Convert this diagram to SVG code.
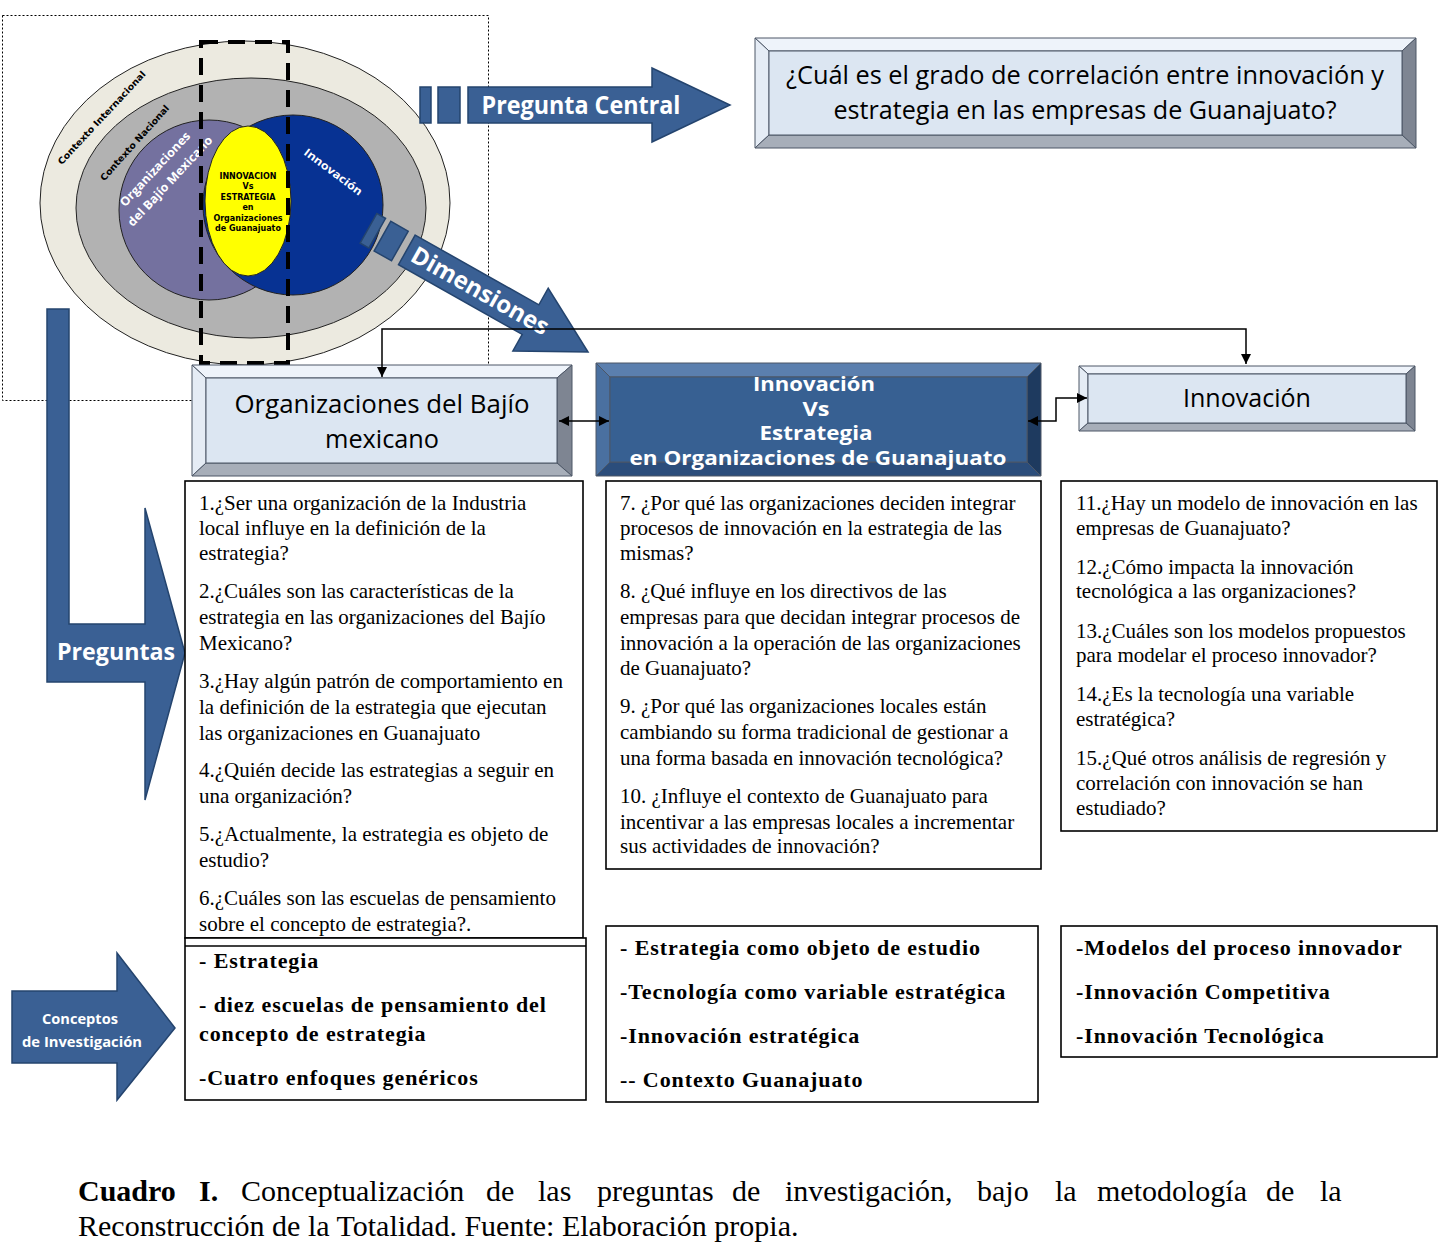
<svg xmlns="http://www.w3.org/2000/svg" width="1450" height="1255" viewBox="0 0 1450 1255">
<defs>
<marker id="ah" viewBox="0 0 10 10" refX="10" refY="5" markerWidth="10" markerHeight="10" markerUnits="userSpaceOnUse" orient="auto-start-reverse"><path d="M0,0 L10,5 L0,10 z" fill="#000"/></marker>
<style>
.ar{fill:#3A6094;stroke:#24446E;stroke-width:1.5}
.wl{fill:#fff;font-family:"Open Sans","Liberation Sans",sans-serif;font-weight:bold}
.lt{fill:#DCE6F2}.lt1{fill:#EEF3FA}.lt2{fill:#E5ECF5}.lt3{fill:#7E8592}.lt4{fill:#A7AEB9}
.dk{fill:#376092}.dk1{fill:#5B7FAE}.dk2{fill:#4A70A0}.dk3{fill:#1E3A5F}.dk4{fill:#2B4D7B}
.bv polygon,.bv rect{stroke:#4C5666;stroke-width:1}
.bx{fill:#fff;stroke:#000;stroke-width:1.6}
.q{font-family:"Liberation Serif","Times New Roman",serif;font-size:21px;fill:#000}
.c{font-family:"Liberation Serif","Times New Roman",serif;font-size:22px;font-weight:bold;fill:#000;letter-spacing:0.9px}
.nt{font-family:"Open Sans","Liberation Sans",sans-serif;fill:#000;text-anchor:middle}
.cap{font-family:"Liberation Serif","Times New Roman",serif;font-size:30px;fill:#000}
.conn{fill:none;stroke:#000;stroke-width:1.5}
</style>
</defs>
<rect width="1450" height="1255" fill="#fff"/>

<!-- dotted frame -->
<rect x="2.5" y="15.5" width="486" height="385" fill="none" stroke="#000" stroke-width="1" stroke-dasharray="2,2"/>

<!-- context ellipses -->
<g id="contexto">
<ellipse cx="245" cy="203" rx="205" ry="162" fill="#ECEAE0" stroke="#222" stroke-width="1"/>
<ellipse cx="251" cy="208" rx="175" ry="130" fill="#B2B2B2" stroke="#222" stroke-width="1"/>
<circle cx="209" cy="210" r="90" fill="#74719F" stroke="#222" stroke-width="1"/>
<text class="wl" font-size="12" text-anchor="middle" transform="translate(158,172) rotate(-47)" textLength="97" lengthAdjust="spacingAndGlyphs">Organizaciones</text>
<text class="wl" font-size="12" text-anchor="middle" transform="translate(173,184) rotate(-47)" textLength="118" lengthAdjust="spacingAndGlyphs">del Bajío Mexicano</text>
<circle cx="293" cy="205" r="90" fill="#073293" stroke="#222" stroke-width="1"/>
<ellipse cx="248" cy="201" rx="43" ry="75" fill="#FFFF00" stroke="#222" stroke-width="1"/>
<text font-family="'DejaVu Sans','Liberation Sans',sans-serif" font-weight="bold" font-size="8" text-anchor="middle" fill="#000">
<tspan x="248" y="179">INNOVACION</tspan><tspan x="248" y="189">Vs</tspan><tspan x="248" y="200">ESTRATEGIA</tspan><tspan x="248" y="210">en</tspan><tspan x="248" y="221">Organizaciones</tspan><tspan x="248" y="231">de Guanajuato</tspan>
</text>
<text font-family="'DejaVu Sans','Liberation Sans',sans-serif" font-weight="bold" font-size="9" text-anchor="middle" fill="#000" transform="translate(104,120) rotate(-47)" textLength="124" lengthAdjust="spacingAndGlyphs">Contexto Internacional</text>
<text font-family="'DejaVu Sans','Liberation Sans',sans-serif" font-weight="bold" font-size="9" text-anchor="middle" fill="#000" transform="translate(137,145) rotate(-48)" textLength="98" lengthAdjust="spacingAndGlyphs">Contexto Nacional</text>
<text class="wl" font-size="11" text-anchor="middle" transform="translate(331,175) rotate(37)" textLength="70" lengthAdjust="spacingAndGlyphs">Innovación</text>
<rect x="201" y="42" width="87" height="321" fill="none" stroke="#000" stroke-width="4" stroke-dasharray="17,10"/>
</g>

<!-- Pregunta Central arrow -->
<g id="pregunta-central-arrow">
<rect class="ar" x="420" y="87" width="11" height="36"/>
<rect class="ar" x="438" y="87" width="22" height="36"/>
<polygon class="ar" points="468,87 652,87 652,68 730,105 652,142 652,123 468,123"/>
<text class="wl" font-size="25" x="581" y="114" text-anchor="middle" textLength="199" lengthAdjust="spacingAndGlyphs">Pregunta Central</text>
</g>

<!-- Pregunta Central box -->
<g id="pregunta-central" class="bv">
<polygon class="lt1" points="755,38 1416,38 1402,51 769,51"/>
<polygon class="lt2" points="755,38 769,51 769,135 755,148"/>
<polygon class="lt3" points="1416,38 1416,148 1402,135 1402,51"/>
<polygon class="lt4" points="755,148 769,135 1402,135 1416,148"/>
<rect class="lt" x="769" y="51" width="633" height="84"/>
<text class="nt" font-size="25" x="1085" y="84" textLength="598" lengthAdjust="spacingAndGlyphs">¿Cuál es el grado de correlación entre innovación y</text>
<text class="nt" font-size="25" x="1085" y="119" textLength="503" lengthAdjust="spacingAndGlyphs">estrategia en las empresas de Guanajuato?</text>
</g>

<!-- Dimensiones arrow -->
<g id="dimensiones-arrow" transform="translate(368.5,228.3) rotate(29.4)">
<rect class="ar" x="0" y="-17" width="10" height="34"/>
<rect class="ar" x="16" y="-17" width="20" height="34"/>
<polygon class="ar" points="44,-17 186,-17 186,-36 252,0 186,36 186,17 44,17"/>
<text class="wl" font-size="24" x="128" y="8" text-anchor="middle" textLength="154" lengthAdjust="spacingAndGlyphs">Dimensiones</text>
</g>

<!-- Preguntas arrow -->
<g id="preguntas-arrow">
<polygon class="ar" points="47,309 69,309 69,624 145,624 145,508 185,653 145,800 145,682 47,682"/>
<text class="wl" font-size="24" x="116" y="660" text-anchor="middle" textLength="118" lengthAdjust="spacingAndGlyphs">Preguntas</text>
</g>

<!-- Conceptos arrow -->
<g id="conceptos-arrow">
<polygon class="ar" points="12,991 117,991 117,953 175,1028 117,1100 117,1063 12,1063"/>
<text class="wl" font-size="15" font-weight="normal" x="80" y="1024" text-anchor="middle" textLength="76" lengthAdjust="spacingAndGlyphs">Conceptos</text>
<text class="wl" font-size="15" font-weight="normal" x="82" y="1047" text-anchor="middle" textLength="120" lengthAdjust="spacingAndGlyphs">de Investigación</text>
</g>

<!-- Node: Organizaciones del Bajío mexicano -->
<g id="node-organizaciones" class="bv">
<polygon class="lt1" points="192,365 572,365 557,378 206,378"/>
<polygon class="lt2" points="192,365 206,378 206,463 192,476"/>
<polygon class="lt3" points="572,365 572,476 557,463 557,378"/>
<polygon class="lt4" points="192,476 206,463 557,463 572,476"/>
<rect class="lt" x="206" y="378" width="351" height="85"/>
<text class="nt" font-size="25" x="382" y="413" textLength="295" lengthAdjust="spacingAndGlyphs">Organizaciones  del Bajío</text>
<text class="nt" font-size="25" x="382" y="448" textLength="114" lengthAdjust="spacingAndGlyphs">mexicano</text>
</g>

<!-- Node: Innovación Vs Estrategia -->
<g id="node-innovacion-vs-estrategia" class="bv">
<polygon class="dk1" points="596,363 1041,363 1027,377 610,377"/>
<polygon class="dk2" points="596,363 610,377 610,462 596,476"/>
<polygon class="dk3" points="1041,363 1041,476 1027,462 1027,377"/>
<polygon class="dk4" points="596,476 610,462 1027,462 1041,476"/>
<rect class="dk" x="610" y="377" width="417" height="85"/>
<text class="wl" font-size="19" x="814" y="391" text-anchor="middle" textLength="122" lengthAdjust="spacingAndGlyphs">Innovación</text>
<text class="wl" font-size="19" x="816" y="416" text-anchor="middle" textLength="27" lengthAdjust="spacingAndGlyphs">Vs</text>
<text class="wl" font-size="19" x="816" y="440" text-anchor="middle" textLength="113" lengthAdjust="spacingAndGlyphs">Estrategia</text>
<text class="wl" font-size="19" x="818" y="465" text-anchor="middle" textLength="377" lengthAdjust="spacingAndGlyphs">en Organizaciones  de Guanajuato</text>
</g>

<!-- Node: Innovación -->
<g id="node-innovacion" class="bv">
<polygon class="lt1" points="1079,366 1415,366 1406,374 1088,374"/>
<polygon class="lt2" points="1079,366 1088,374 1088,423 1079,431"/>
<polygon class="lt3" points="1415,366 1415,431 1406,423 1406,374"/>
<polygon class="lt4" points="1079,431 1088,423 1406,423 1415,431"/>
<rect class="lt" x="1088" y="374" width="318" height="49"/>
<text class="nt" font-size="25" x="1247" y="407" textLength="128" lengthAdjust="spacingAndGlyphs">Innovación</text>
</g>

<!-- Connectors -->
<g id="connectors">
<path class="conn" d="M382,377 V329 H1246 V364" marker-start="url(#ah)" marker-end="url(#ah)"/>
<path class="conn" d="M559,421 H609" marker-start="url(#ah)" marker-end="url(#ah)"/>
<path class="conn" d="M1028,421 H1056 V398 H1087" marker-start="url(#ah)" marker-end="url(#ah)"/>
</g>

<!-- Questions column 1 -->
<g id="preguntas-organizaciones">
<rect class="bx" x="185" y="481" width="398" height="457"/>
<text class="q">
<tspan x="199" y="510">1.¿Ser una organización de la Industria</tspan>
<tspan x="199" y="535">local influye en la definición de la</tspan>
<tspan x="199" y="560">estrategia?</tspan>
<tspan x="199" y="598">2.¿Cuáles son las características de la</tspan>
<tspan x="199" y="624">estrategia en las organizaciones del Bajío</tspan>
<tspan x="199" y="650">Mexicano?</tspan>
<tspan x="199" y="688">3.¿Hay algún patrón de comportamiento en</tspan>
<tspan x="199" y="714">la definición de la estrategia que ejecutan</tspan>
<tspan x="199" y="740">las organizaciones en Guanajuato</tspan>
<tspan x="199" y="777">4.¿Quién decide las estrategias a seguir en</tspan>
<tspan x="199" y="803">una organización?</tspan>
<tspan x="199" y="841">5.¿Actualmente, la estrategia es objeto de</tspan>
<tspan x="199" y="867">estudio?</tspan>
<tspan x="199" y="905">6.¿Cuáles son las escuelas de pensamiento</tspan>
<tspan x="199" y="931">sobre el concepto de estrategia?.</tspan>
</text>
</g>

<!-- Questions column 2 -->
<g id="preguntas-innovacion-vs-estrategia">
<rect class="bx" x="606" y="481" width="435" height="388"/>
<text class="q">
<tspan x="620" y="510">7. ¿Por qué las organizaciones deciden integrar</tspan>
<tspan x="620" y="535">procesos de innovación en la estrategia de las</tspan>
<tspan x="620" y="560">mismas?</tspan>
<tspan x="620" y="598">8. ¿Qué influye en los directivos de las</tspan>
<tspan x="620" y="624">empresas para que decidan integrar procesos de</tspan>
<tspan x="620" y="650">innovación a la operación de las organizaciones</tspan>
<tspan x="620" y="675">de Guanajuato?</tspan>
<tspan x="620" y="713">9. ¿Por qué las organizaciones locales están</tspan>
<tspan x="620" y="739">cambiando su forma tradicional de gestionar a</tspan>
<tspan x="620" y="765">una forma basada en innovación tecnológica?</tspan>
<tspan x="620" y="803">10. ¿Influye el contexto de Guanajuato para</tspan>
<tspan x="620" y="829">incentivar a las empresas locales a incrementar</tspan>
<tspan x="620" y="853">sus actividades  de innovación?</tspan>
</text>
</g>

<!-- Questions column 3 -->
<g id="preguntas-innovacion">
<rect class="bx" x="1061" y="481" width="376" height="350"/>
<text class="q">
<tspan x="1076" y="510">11.¿Hay un modelo de innovación en las</tspan>
<tspan x="1076" y="535">empresas de Guanajuato?</tspan>
<tspan x="1076" y="574">12.¿Cómo impacta la innovación</tspan>
<tspan x="1076" y="598">tecnológica a las organizaciones?</tspan>
<tspan x="1076" y="638">13.¿Cuáles son los modelos propuestos</tspan>
<tspan x="1076" y="662">para modelar el proceso innovador?</tspan>
<tspan x="1076" y="701">14.¿Es la tecnología una variable</tspan>
<tspan x="1076" y="726">estratégica?</tspan>
<tspan x="1076" y="765">15.¿Qué otros análisis de regresión y</tspan>
<tspan x="1076" y="790">correlación con innovación se han</tspan>
<tspan x="1076" y="815">estudiado?</tspan>
</text>
</g>

<!-- Concepts -->
<g id="conceptos-organizaciones">
<rect class="bx" x="185" y="938" width="401" height="162"/>
<line x1="185" y1="946" x2="586" y2="946" stroke="#000" stroke-width="1.4"/>
<text class="c">
<tspan x="199" y="968">- Estrategia</tspan>
<tspan x="199" y="1012">- diez escuelas de pensamiento del</tspan>
<tspan x="199" y="1041">concepto de estrategia</tspan>
<tspan x="199" y="1085">-Cuatro enfoques genéricos</tspan>
</text>
</g>
<g id="conceptos-innovacion-vs-estrategia">
<rect class="bx" x="606" y="926" width="432" height="176"/>
<text class="c">
<tspan x="620" y="955">- Estrategia como objeto de estudio</tspan>
<tspan x="620" y="999">-Tecnología como variable estratégica</tspan>
<tspan x="620" y="1043">-Innovación estratégica</tspan>
<tspan x="620" y="1087">-- Contexto Guanajuato</tspan>
</text>
</g>
<g id="conceptos-innovacion">
<rect class="bx" x="1061" y="926" width="376" height="131"/>
<text class="c">
<tspan x="1076" y="955">-Modelos del proceso innovador</tspan>
<tspan x="1076" y="999">-Innovación Competitiva</tspan>
<tspan x="1076" y="1043">-Innovación Tecnológica</tspan>
</text>
</g>

<!-- Caption -->
<g id="caption" class="cap">
<text x="78" y="1201" font-weight="bold">Cuadro</text>
<text x="199" y="1201" font-weight="bold">I.</text>
<text x="241" y="1201">Conceptualización</text>
<text x="486" y="1201">de</text>
<text x="538" y="1201">las</text>
<text x="597" y="1201">preguntas</text>
<text x="732" y="1201">de</text>
<text x="785" y="1201">investigación,</text>
<text x="977" y="1201">bajo</text>
<text x="1055" y="1201">la</text>
<text x="1097" y="1201">metodología</text>
<text x="1266" y="1201">de</text>
<text x="1320" y="1201">la</text>
<text x="78" y="1236">Reconstrucción de la Totalidad. Fuente: Elaboración propia.</text>
</g>
</svg>
